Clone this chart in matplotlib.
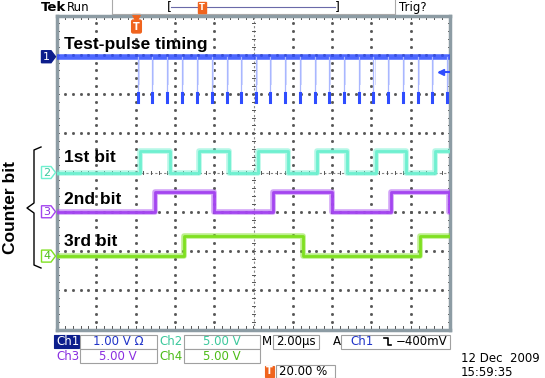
import numpy as np
import matplotlib.pyplot as plt
from matplotlib.patches import Polygon, Rectangle
from matplotlib.lines import Line2D

W, H = 545, 378

# ---- values (time in us, relative to the trigger) ----
pulse_times = [0.11, 0.85, 1.58, 2.35, 3.11, 3.87, 4.64, 5.36, 6.13, 6.84, 7.60,
               8.37, 9.13, 9.84, 10.61, 11.37, 12.10, 12.86, 13.62, 14.36, 15.10, 15.83]
pulse_depth = -1.15      # V
trigger_level = -0.4     # V

bit1_edges = [0.22, 1.75, 3.24, 4.75, 6.24, 7.74, 9.22, 10.74, 12.23, 13.75, 15.24]
bit2_edges = [0.99, 3.99, 6.99, 9.98, 12.98, 15.97]
bit3_edges = [2.48, 8.50, 14.47]
bit_high = [2.8, 2.55, 2.5]  # V

ch_names = ["Ch1", "Ch2", "Ch3", "Ch4"]
volts_per_div = [1.0, 5.0, 5.0, 5.0]
ch_position = [2.95, 0.0, -1.0, -2.13]   # divisions
trace_labels = ["Test-pulse timing", "1st bit", "2nd bit", "3rd bit"]
t_start, t_end = -4.0, 16.0
time_per_div = 2.0

ch_colors = ["#2f4dff", "#6ff0d0", "#a445f0", "#7fe020"]
text_colors = ["#1f33c8", "#3cc89c", "#8a2ee0", "#4cbc18"]


def fx(x):
    return x / W


def fy(y):
    return 1 - y / H


def step_xy(edges, high):
    xs = [t_start] + list(edges) + [t_end]
    ys = [0.0 if i % 2 == 0 else high for i in range(len(edges) + 1)]
    ys.append(ys[-1])
    return np.array(xs), np.array(ys)


fig = plt.figure(figsize=(W / 100, H / 100), dpi=100)
ax = fig.add_axes([fx(57), fy(329.5), (450 - 57) / W, (329.5 - 15.5) / H])
ax.set_xlim(t_start, t_end)
ax.set_ylim(-4, 4)
ax.set_xticks([])
ax.set_yticks([])
for s in ax.spines.values():
    s.set_color("#8d9ca4")
    s.set_linewidth(2.5)

# ---- graticule ----
grid_c = "#555555"
for k in range(1, 10):
    t = t_start + k * time_per_div
    if k == 5:
        continue
    yy = np.arange(-4, 4.01, 0.2)
    ax.plot(np.full_like(yy, t), yy, ls="none", marker="s", ms=1.0, color=grid_c, zorder=1)
for k in range(-3, 4):
    if k == 0:
        continue
    xx = np.arange(t_start, t_end + 0.01, 0.4)
    ax.plot(xx, np.full_like(xx, k), ls="none", marker="s", ms=1.0, color=grid_c, zorder=1)

t_mid = (t_start + t_end) / 2
ax.axvline(t_mid, color="#888888", lw=0.8, ls=(0, (2, 2)), zorder=1)
ax.axhline(0, color="#888888", lw=0.8, ls=(0, (2, 2)), zorder=1)
for yv in np.arange(-4, 4.01, 0.2):
    ax.plot([t_mid - 0.1, t_mid + 0.1], [yv, yv], color="#555555", lw=0.7, zorder=1)
for xv in np.arange(t_start, t_end + 0.01, 0.4):
    ax.plot([xv, xv], [-0.05, 0.05], color="#555555", lw=0.7, zorder=1)
    ax.plot([xv, xv], [4, 3.9], color="#555555", lw=0.7, zorder=1)
    ax.plot([xv, xv], [-4, -3.9], color="#555555", lw=0.7, zorder=1)
for yv in np.arange(-4, 4.01, 0.2):
    ax.plot([t_start, t_start + 0.12], [yv, yv], color="#555555", lw=0.7, zorder=1)
    ax.plot([t_end, t_end - 0.12], [yv, yv], color="#555555", lw=0.7, zorder=1)

# ---- channel 1: test pulses ----
base1 = ch_position[0]
pd = pulse_depth / volts_per_div[0]
ax.plot([t_start, t_end], [base1, base1], color=ch_colors[0], lw=4, alpha=0.85, zorder=3)
for t in pulse_times:
    ax.plot([t, t], [base1, base1 + pd], color="#a9b7ff", lw=0.9, zorder=3)
    ax.plot([t, t], [base1 + pd * 0.8, base1 + pd], color=ch_colors[0], lw=2.2, zorder=3)
    ax.plot([t + 0.06, t + 0.06], [base1, base1 + pd * 0.6], color="#d4dbff", lw=0.7, zorder=2)
# trigger level arrow
trig_y = base1 + trigger_level / volts_per_div[0]
ax.plot([t_end - 0.5, t_end - 0.05], [trig_y, trig_y], color=ch_colors[0], lw=1.5,
        zorder=4, clip_on=False)
ax.plot([t_end - 0.45], [trig_y], marker="<", ms=4, color=ch_colors[0], zorder=4)

# ---- channels 2-4: counter bits ----
for i, edges in enumerate([bit1_edges, bit2_edges, bit3_edges]):
    ch = i + 1
    xs, ys = step_xy(edges, bit_high[i])
    yd = ys / volts_per_div[ch] + ch_position[ch]
    ax.plot(xs, yd, drawstyle="steps-post", color=ch_colors[ch], lw=4, alpha=0.5, zorder=3)
    ax.plot(xs, yd, drawstyle="steps-post", color=ch_colors[ch], lw=2, zorder=3)

# trace labels
label_y = [45, 157, 200, 242]
for lab, y in zip(trace_labels, label_y):
    fig.text(fx(64), fy(y), lab, fontsize=12.5, fontweight="bold", family="Liberation Sans",
             va="center", ha="left", zorder=10)

# trigger position marker
ax.plot([0], [3.93], marker="v", ms=6, color="#f0641e", clip_on=False, zorder=6)
fig.text(fx(136.5), fy(26.5), "T", color="white", fontsize=7, fontweight="bold",
         ha="center", va="center",
         bbox=dict(boxstyle="round,pad=0.15", fc="#f0641e", ec="#f0641e"))

# channel ground markers
for i in range(4):
    yc = ax.transData.transform((0, ch_position[i]))[1]
    ypx = H - yc
    pts = [(41.5, ypx - 6), (51, ypx - 6), (55.5, ypx), (51, ypx + 6), (41.5, ypx + 6)]
    if i == 0:
        fig.add_artist(Polygon([(fx(a), fy(b)) for a, b in pts], closed=True,
                               fc="#0c1e8c", ec="#0c1e8c", transform=fig.transFigure))
        tc = "white"
    else:
        fig.add_artist(Polygon([(fx(a), fy(b)) for a, b in pts], closed=True,
                               fc="white", ec=ch_colors[i], lw=1, transform=fig.transFigure))
        tc = text_colors[i]
    fig.text(fx(46.5), fy(ypx), str(i + 1), color=tc, fontsize=8, ha="center", va="center")

# counter bit bracket
bx = 34
br = [(41, 147), (bx, 150), (bx, 203), (27, 208), (bx, 213), (bx, 265), (41, 268)]
fig.add_artist(Line2D([fx(a) for a, b in br], [fy(b) for a, b in br], color="black",
                      lw=1.0, transform=fig.transFigure))
fig.text(fx(11), fy(208), "Counter bit", rotation=90, fontsize=12.5, fontweight="bold",
         family="Liberation Sans", ha="center", va="center")

# ---- header ----
fig.text(fx(41), fy(7.5), "Tek", fontsize=9.5, fontweight="bold", va="center")
fig.text(fx(67), fy(7.5), "Run", fontsize=8.5, va="center")
fig.text(fx(399), fy(7.5), "Trig?", fontsize=8.5, va="center")
for xs_ in [112, 395]:
    fig.add_artist(Line2D([fx(xs_), fx(xs_)], [fy(0), fy(14)], color="#aaaaaa", lw=0.8,
                          transform=fig.transFigure))
fig.add_artist(Line2D([fx(112), fx(395)], [fy(14), fy(14)], color="#aaaaaa", lw=0.8,
                      transform=fig.transFigure))
fig.add_artist(Line2D([fx(171), fx(335)], [fy(7), fy(7)], color="#6a6aa8", lw=0.8,
                      transform=fig.transFigure))
fig.text(fx(169), fy(7), "[", fontsize=9, ha="center", va="center")
fig.text(fx(337), fy(7), "]", fontsize=9, ha="center", va="center")
fig.text(fx(202), fy(7), "T", color="white", fontsize=6, fontweight="bold", ha="center",
         va="center", bbox=dict(boxstyle="square,pad=0.12", fc="#f0641e", ec="#f0641e"))


# ---- status area ----
def box(x0, x1, y0, y1, fc="white", ec="#a0a0a0"):
    fig.add_artist(Rectangle((fx(x0), fy(y1)), fx(x1) - fx(x0), fy(y0) - fy(y1),
                             fc=fc, ec=ec, lw=0.8, transform=fig.transFigure))


fs = 8.5
r1, r2 = 341.5, 356
box(54, 79, 335, 348, fc="#0c1e8c", ec="#0c1e8c")
fig.text(fx(56), fy(r1), "Ch1", color="white", fontsize=fs, va="center")
box(80, 157, 334.5, 348.5)
fig.text(fx(118), fy(r1), "1.00 V \u03a9", color=text_colors[0], fontsize=fs,
         ha="center", va="center")
fig.text(fx(159), fy(r1), "Ch2", color=text_colors[1], fontsize=fs, va="center")
box(184, 260, 334.5, 348.5)
fig.text(fx(222), fy(r1), "5.00 V", color=text_colors[1], fontsize=fs, ha="center", va="center")
fig.text(fx(262), fy(r1), "M", fontsize=fs, va="center")
box(273, 319, 334.5, 348.5)
fig.text(fx(296), fy(r1), "2.00\u00b5s", fontsize=fs, ha="center", va="center")
fig.text(fx(333), fy(r1), "A", fontsize=fs, va="center")
box(341, 450, 334.5, 348.5)
fig.text(fx(350), fy(r1), "Ch1", color=text_colors[0], fontsize=fs, va="center")
edge = [(384, 338), (388, 338), (388, 345), (391, 345)]
fig.add_artist(Line2D([fx(a) for a, b in edge], [fy(b) for a, b in edge], color="black",
                      lw=1.2, transform=fig.transFigure))
fig.text(fx(447), fy(r1), "\u2212400mV", fontsize=fs, ha="right", va="center")

fig.text(fx(56), fy(r2), "Ch3", color=text_colors[2], fontsize=fs, va="center")
box(80, 157, 348.5, 363)
fig.text(fx(118), fy(r2), "5.00 V", color=text_colors[2], fontsize=fs, ha="center", va="center")
fig.text(fx(159), fy(r2), "Ch4", color=text_colors[3], fontsize=fs, va="center")
box(184, 260, 348.5, 363)
fig.text(fx(222), fy(r2), "5.00 V", color=text_colors[3], fontsize=fs, ha="center", va="center")

box(265, 274, 366, 377, fc="#f0641e", ec="#f0641e")
fig.text(fx(269.5), fy(371.5), "T", color="white", fontsize=7, fontweight="bold",
         ha="center", va="center")
box(276, 335, 364.5, 377.5)
fig.text(fx(279), fy(371.5), "20.00 %", fontsize=fs, va="center")

fig.text(fx(461), fy(358), "12 Dec  2009", fontsize=fs, va="center")
fig.text(fx(461), fy(372), "15:59:35", fontsize=fs, va="center")

fig.savefig("out.png", dpi=100)
